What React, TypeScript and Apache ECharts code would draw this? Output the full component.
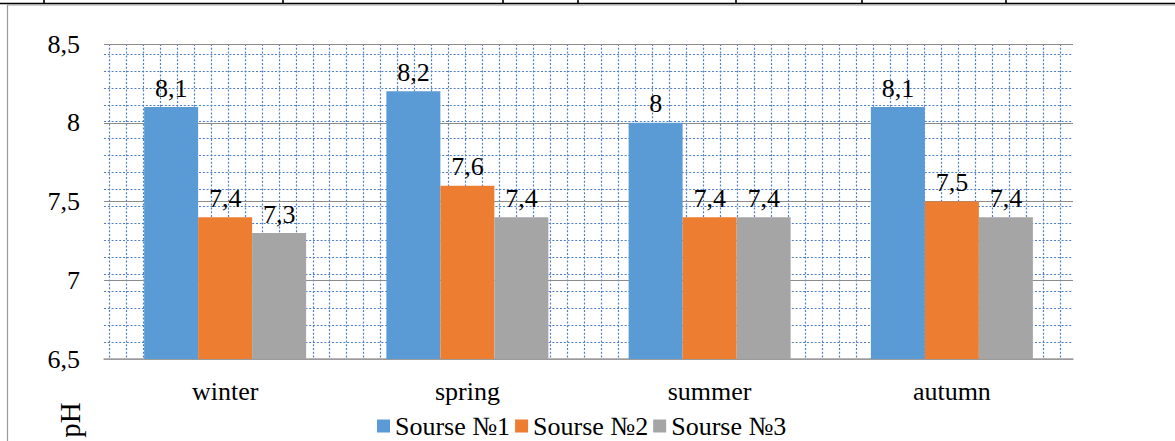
import React, { useEffect, useRef } from "react";
import * as echarts from "echarts";

const categories = ["winter", "spring", "summer", "autumn"];
const seriesNames = ["Sourse №1", "Sourse №2", "Sourse №3"];
const source1 = [8.1, 8.2, 8.0, 8.1];
const source2 = [7.4, 7.6, 7.4, 7.5];
const source3 = [7.3, 7.4, 7.4, 7.4];
const yTicks = [6.5, 7, 7.5, 8, 8.5];

const colors = ["#5b9bd5", "#ed7d31", "#a5a5a5"];
const FONT = "Liberation Serif";
const FS = 26;

const fmt = (v: number) => String(v).replace(".", ",");

export default function App() {
  const ref = useRef<HTMLDivElement>(null);
  useEffect(() => {
    if (!ref.current) return;
    const chart = echarts.init(ref.current, null, { renderer: "svg" });
    const cellY = 16.95;
    const cellX = 16.98;
    const patCols = 56;
    const plotH = 315;
    const patternLine = {
      show: true,
      lineStyle: { color: "#4f7fc6", width: 1.2, type: [2, 1.8] as any },
    };
    const hiddenAxis = (gridIndex: number, extra: any) => ({
      type: "value",
      gridIndex,
      axisLine: { show: false },
      axisTick: { show: false },
      axisLabel: { show: false },
      splitLine: { show: false },
      ...extra,
    });
    const data = [source1, source2, source3];
    chart.setOption({
      animation: false,
      backgroundColor: "#ffffff",
      grid: [
        { left: 104, right: 102, top: 44, bottom: 82 },
        { left: 104, right: 102, top: 44, bottom: 82 },
        { left: 109, width: patCols * cellX, top: 44, bottom: 82 },
      ],
      legend: {
        data: seriesNames,
        left: 372,
        top: 408,
        icon: "rect",
        itemWidth: 13,
        itemHeight: 13,
        itemGap: 5,
        textStyle: { fontFamily: FONT, fontSize: FS, color: "#000" },
      },
      xAxis: [
        {
          type: "category",
          data: categories,
          gridIndex: 0,
          axisLine: { show: true, lineStyle: { color: "#a0a0a0", width: 1.5 } },
          axisTick: { show: false },
          axisLabel: { fontFamily: FONT, fontSize: FS, color: "#000", margin: 19 },
          splitLine: { show: false },
          z: 3,
        },
        hiddenAxis(1, { min: 0, max: 1 }),
        hiddenAxis(2, { min: 0, max: patCols, interval: 1, splitLine: patternLine }),
      ],
      yAxis: [
        {
          type: "value",
          gridIndex: 0,
          min: yTicks[0],
          max: yTicks[yTicks.length - 1],
          interval: 0.5,
          axisLine: { show: false },
          axisTick: { show: false },
          axisLabel: {
            fontFamily: FONT,
            fontSize: FS,
            color: "#000",
            margin: 24,
            formatter: (v: number) => fmt(v),
          },
          splitLine: { show: true, lineStyle: { color: "#8c8c8c", width: 1.2 } },
          z: 2,
        },
        hiddenAxis(1, { min: 0, max: plotH / cellY, interval: 1, splitLine: patternLine }),
        hiddenAxis(2, { min: 0, max: 1 }),
      ],
      series: data.map((d, i) => ({
        name: seriesNames[i],
        type: "bar",
        xAxisIndex: 0,
        yAxisIndex: 0,
        data: d,
        barWidth: 54,
        barGap: "0%",
        itemStyle: { color: colors[i] },
        z: 5,
        label: {
          show: true,
          position: "top",
          distance: 6,
          fontFamily: FONT,
          fontSize: FS,
          color: "#000",
          formatter: (p: any) => fmt(p.value),
        },
      })),
      graphic: [
        {
          type: "line",
          shape: { x1: 0, y1: 3.5, x2: 1175, y2: 3.5 },
          style: { stroke: "#000", lineWidth: 1.6 },
          silent: true,
        },
        ...[44, 283, 503, 578, 736, 862, 1006].map((x) => ({
          type: "line",
          shape: { x1: x, y1: 0, x2: x, y2: 3.5 },
          style: { stroke: "#000", lineWidth: 1.6 },
          silent: true,
        })),
        {
          type: "polyline",
          shape: { points: [[7.5, 441], [7.5, 5], [1175, 5]] },
          style: { stroke: "#9a9a9a", lineWidth: 1.2, fill: null },
          silent: true,
        },
        {
          type: "text",
          x: 70,
          y: 420,
          rotation: Math.PI / 2,
          style: {
            text: "pH",
            fontFamily: FONT,
            fontSize: 29,
            fill: "#000",
            align: "center",
            verticalAlign: "middle",
          },
          silent: true,
        },
      ],
    });
    return () => chart.dispose();
  }, []);
  return (
    <div
      ref={ref}
      style={{ position: "fixed", left: 0, top: 0, width: 1175, height: 441 }}
    />
  );
}
